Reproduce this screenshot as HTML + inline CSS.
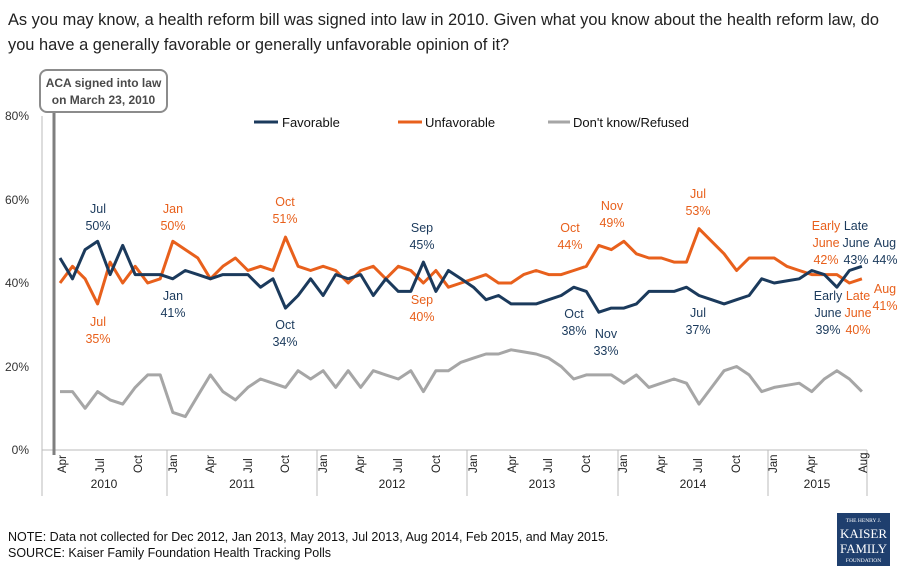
<!DOCTYPE html>
<html><head><meta charset="utf-8"><style>
body{margin:0;background:#fff;}
svg{display:block;font-family:"Liberation Sans",sans-serif;}
</style></head><body>
<svg id="s" width="900" height="575" viewBox="0 0 900 575" xmlns="http://www.w3.org/2000/svg">
<text x="8" y="25" font-size="16.4" fill="#222">As you may know, a health reform bill was signed into law in 2010. Given what you know about the health reform law, do</text>
<text x="8" y="50" font-size="16.4" fill="#222">you have a generally favorable or generally unfavorable opinion of it?</text>
<g font-size="12" fill="#333" text-anchor="end">
<text x="29" y="120">80%</text><text x="29" y="204">60%</text><text x="29" y="287">40%</text><text x="29" y="371">20%</text><text x="29" y="454">0%</text>
</g>
<line x1="42" y1="116" x2="42" y2="450" stroke="#bbb" stroke-width="1"/>
<line x1="42" y1="450" x2="867" y2="450" stroke="#bbb" stroke-width="1"/>
<g stroke="#bbb" stroke-width="1">
<line x1="42" y1="450" x2="42" y2="496"/><line x1="167" y1="450" x2="167" y2="496"/><line x1="317" y1="450" x2="317" y2="496"/><line x1="467" y1="450" x2="467" y2="496"/><line x1="618" y1="450" x2="618" y2="496"/><line x1="768" y1="450" x2="768" y2="496"/><line x1="867" y1="450" x2="867" y2="496"/>
</g>
<g font-size="11.5" fill="#222" id="months"></g>
<g font-size="12" fill="#222" text-anchor="middle">
<text x="104" y="488">2010</text><text x="242" y="488">2011</text><text x="392" y="488">2012</text><text x="542" y="488">2013</text><text x="693" y="488">2014</text><text x="817" y="488">2015</text>
</g>
<line x1="54" y1="112" x2="54" y2="455" stroke="#7f7f7f" stroke-width="3"/>
<rect x="40" y="70" width="127" height="42" rx="7" fill="#fff" stroke="#8c8c8c" stroke-width="2"/>
<text x="103.5" y="87" font-size="12" font-weight="bold" fill="#4a4a4a" text-anchor="middle">ACA signed into law</text>
<text x="103.5" y="104" font-size="12" font-weight="bold" fill="#4a4a4a" text-anchor="middle">on March 23, 2010</text>
<g font-size="13" fill="#111">
<line x1="254" y1="122" x2="278" y2="122" stroke="#1b3a5c" stroke-width="3"/><text x="282" y="127">Favorable</text>
<line x1="398" y1="122" x2="422" y2="122" stroke="#e8601c" stroke-width="3"/><text x="425" y="127">Unfavorable</text>
<line x1="548" y1="122" x2="570" y2="122" stroke="#a6a6a6" stroke-width="3"/><text x="573" y="127">Don't know/Refused</text>
</g>
<g id="lines" fill="none" stroke-width="3" stroke-linejoin="round"></g>
<g font-size="12.5" text-anchor="middle">
<g fill="#1b3a5c">
<text x="98" y="213">Jul</text><text x="98" y="230">50%</text>
<text x="173" y="300">Jan</text><text x="173" y="317">41%</text>
<text x="285" y="329">Oct</text><text x="285" y="346">34%</text>
<text x="422" y="232">Sep</text><text x="422" y="249">45%</text>
<text x="574" y="318">Oct</text><text x="574" y="335">38%</text>
<text x="606" y="338">Nov</text><text x="606" y="355">33%</text>
<text x="698" y="317">Jul</text><text x="698" y="334">37%</text>
<text x="856" y="230">Late</text><text x="856" y="247">June</text><text x="856" y="264">43%</text>
<text x="885" y="247">Aug</text><text x="885" y="264">44%</text>
<text x="828" y="300">Early</text><text x="828" y="317">June</text><text x="828" y="334">39%</text>
</g>
<g fill="#e8601c">
<text x="98" y="326">Jul</text><text x="98" y="343">35%</text>
<text x="173" y="213">Jan</text><text x="173" y="230">50%</text>
<text x="285" y="206">Oct</text><text x="285" y="223">51%</text>
<text x="422" y="304">Sep</text><text x="422" y="321">40%</text>
<text x="570" y="232">Oct</text><text x="570" y="249">44%</text>
<text x="612" y="210">Nov</text><text x="612" y="227">49%</text>
<text x="698" y="198">Jul</text><text x="698" y="215">53%</text>
<text x="826" y="230">Early</text><text x="826" y="247">June</text><text x="826" y="264">42%</text>
<text x="858" y="300">Late</text><text x="858" y="317">June</text><text x="858" y="334">40%</text>
<text x="885" y="293">Aug</text><text x="885" y="310">41%</text>
</g>
</g>
<text x="8" y="541" font-size="12.5" fill="#111">NOTE: Data not collected for Dec 2012, Jan 2013, May 2013, Jul 2013, Aug 2014, Feb 2015, and May 2015.</text>
<text x="8" y="557" font-size="12.5" fill="#111">SOURCE: Kaiser Family Foundation Health Tracking Polls</text>
<rect x="837" y="513" width="53" height="53" fill="#1f3f6e"/>
<g fill="#fff" font-family="Liberation Serif,serif" text-anchor="middle">
<text x="863.5" y="522" font-size="5.5">THE HENRY J.</text>
<text x="863.5" y="538" font-size="13" textLength="47" lengthAdjust="spacingAndGlyphs">KAISER</text>
<text x="863.5" y="553" font-size="13" textLength="47" lengthAdjust="spacingAndGlyphs">FAMILY</text>
<text x="863.5" y="562" font-size="5.5">FOUNDATION</text>
</g>
</svg>
<script>
var fav=[46,41,48,50,42,49,42,42,42,41,43,42,41,42,42,42,39,41,34,37,41,37,42,41,42,37,41,38,38,45,38,43,41,39,36,37,35,35,35,36,37,39,38,33,34,34,35,38,38,38,39,37,36,35,36,37,41,40,40.5,41,43,42,39,43,44];
var unf=[40,44,41,35,45,40,44,40,41,50,48,46,41,44,46,43,44,43,51,44,43,44,43,40,43,44,41,44,43,40,43,39,40,41,42,40,40,42,43,42,42,43,44,49,48,50,47,46,46,45,45,53,50,47,43,46,46,46,44,43,42,42,42,40,41];
var dk=[14,14,10,14,12,11,15,18,18,9,8,13,18,14,12,15,17,16,15,19,17,19,15,19,15,19,18,17,19,14,19,19,21,22,23,23,24,23.5,23,22,20,17,18,18,18,16,18,15,16,17,16,11,15,19,20,18,14,15,15.5,16,14,17,19,17,14];
function pts(a){return a.map(function(v,i){return (60+i*12.53).toFixed(1)+","+(450-v*4.175).toFixed(1)}).join(" ");}
var NS="http://www.w3.org/2000/svg",g=document.getElementById("lines");
[[dk,"#a6a6a6"],[unf,"#e8601c"],[fav,"#1b3a5c"]].forEach(function(p){var e=document.createElementNS(NS,"polyline");e.setAttribute("points",pts(p[0]));e.setAttribute("stroke",p[1]);g.appendChild(e);});
var m=[["Apr",62],["Jul",100],["Oct",138],["Jan",173],["Apr",210],["Jul",248],["Oct",285],["Jan",323],["Apr",360],["Jul",398],["Oct",436],["Jan",473],["Apr",512],["Jul",548],["Oct",586],["Jan",623],["Apr",661],["Jul",698],["Oct",736],["Jan",773],["Apr",811],["Aug",863]];
var mg=document.getElementById("months");
m.forEach(function(d){var t=document.createElementNS(NS,"text");t.setAttribute("transform","translate("+(d[1]+4)+",473) rotate(-90)");t.textContent=d[0];mg.appendChild(t);});
</script>
</body></html>
